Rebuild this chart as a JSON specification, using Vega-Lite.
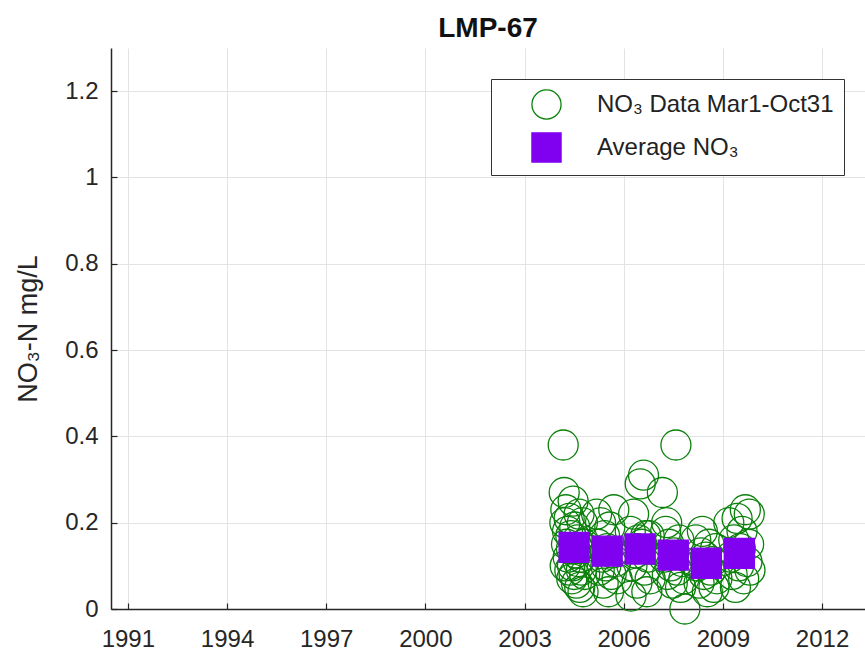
{
  "$schema": "https://vega.github.io/schema/vega-lite/v6.json",
  "width": 754,
  "height": 561,
  "autosize": {"type": "none"},
  "padding": {"left": 111, "top": 48, "right": 0, "bottom": 42},
  "background": "white",
  "title": {"text": "LMP-67", "fontSize": 28, "font": "Liberation Sans", "fontWeight": "bold", "color": "#111111", "offset": 5},
  "config": {
    "view": {"stroke": null},
    "font": "Liberation Sans",
    "axis": {
      "domainColor": "#262626", "domainWidth": 1.5,
      "gridColor": "#e3e3e3", "gridWidth": 1,
      "labelColor": "#262626", "labelFontSize": 24, "labelFont": "Liberation Sans",
      "titleColor": "#262626", "titleFontSize": 27, "titleFont": "Liberation Sans", "titleFontWeight": "normal",
      "tickColor": "#262626", "tickSize": -6, "tickWidth": 1.2
    },
    "legend": {
      "orient": "none", "legendX": 380, "legendY": 31,
      "strokeColor": "#333333", "fillColor": "white", "padding": 10,
      "symbolSize": 850, "symbolStrokeWidth": 1.3, "labelFontSize": 24, "labelColor": "#222222", "labelFont": "Liberation Sans",
      "rowPadding": 8, "symbolOffset": 30, "labelOffset": 35, "labelLimit": 400
    }
  },
  "data": {"values": [
    {"t": 2004.17, "v": 0.38, "s": "NO₃ Data Mar1-Oct31"},
    {"t": 2004.2, "v": 0.27, "s": "NO₃ Data Mar1-Oct31"},
    {"t": 2004.22, "v": 0.2, "s": "NO₃ Data Mar1-Oct31"},
    {"t": 2004.23, "v": 0.1, "s": "NO₃ Data Mar1-Oct31"},
    {"t": 2004.25, "v": 0.23, "s": "NO₃ Data Mar1-Oct31"},
    {"t": 2004.27, "v": 0.15, "s": "NO₃ Data Mar1-Oct31"},
    {"t": 2004.3, "v": 0.18, "s": "NO₃ Data Mar1-Oct31"},
    {"t": 2004.32, "v": 0.12, "s": "NO₃ Data Mar1-Oct31"},
    {"t": 2004.35, "v": 0.21, "s": "NO₃ Data Mar1-Oct31"},
    {"t": 2004.37, "v": 0.09, "s": "NO₃ Data Mar1-Oct31"},
    {"t": 2004.4, "v": 0.17, "s": "NO₃ Data Mar1-Oct31"},
    {"t": 2004.42, "v": 0.14, "s": "NO₃ Data Mar1-Oct31"},
    {"t": 2004.43, "v": 0.07, "s": "NO₃ Data Mar1-Oct31"},
    {"t": 2004.45, "v": 0.1, "s": "NO₃ Data Mar1-Oct31"},
    {"t": 2004.47, "v": 0.25, "s": "NO₃ Data Mar1-Oct31"},
    {"t": 2004.5, "v": 0.08, "s": "NO₃ Data Mar1-Oct31"},
    {"t": 2004.52, "v": 0.19, "s": "NO₃ Data Mar1-Oct31"},
    {"t": 2004.55, "v": 0.13, "s": "NO₃ Data Mar1-Oct31"},
    {"t": 2004.57, "v": 0.06, "s": "NO₃ Data Mar1-Oct31"},
    {"t": 2004.6, "v": 0.16, "s": "NO₃ Data Mar1-Oct31"},
    {"t": 2004.62, "v": 0.11, "s": "NO₃ Data Mar1-Oct31"},
    {"t": 2004.63, "v": 0.14, "s": "NO₃ Data Mar1-Oct31"},
    {"t": 2004.65, "v": 0.22, "s": "NO₃ Data Mar1-Oct31"},
    {"t": 2004.67, "v": 0.05, "s": "NO₃ Data Mar1-Oct31"},
    {"t": 2004.7, "v": 0.12, "s": "NO₃ Data Mar1-Oct31"},
    {"t": 2004.72, "v": 0.09, "s": "NO₃ Data Mar1-Oct31"},
    {"t": 2004.75, "v": 0.2, "s": "NO₃ Data Mar1-Oct31"},
    {"t": 2004.77, "v": 0.04, "s": "NO₃ Data Mar1-Oct31"},
    {"t": 2004.8, "v": 0.15, "s": "NO₃ Data Mar1-Oct31"},
    {"t": 2004.82, "v": 0.08, "s": "NO₃ Data Mar1-Oct31"},
    {"t": 2005.18, "v": 0.22, "s": "NO₃ Data Mar1-Oct31"},
    {"t": 2005.22, "v": 0.15, "s": "NO₃ Data Mar1-Oct31"},
    {"t": 2005.26, "v": 0.09, "s": "NO₃ Data Mar1-Oct31"},
    {"t": 2005.3, "v": 0.2, "s": "NO₃ Data Mar1-Oct31"},
    {"t": 2005.34, "v": 0.12, "s": "NO₃ Data Mar1-Oct31"},
    {"t": 2005.38, "v": 0.06, "s": "NO₃ Data Mar1-Oct31"},
    {"t": 2005.42, "v": 0.17, "s": "NO₃ Data Mar1-Oct31"},
    {"t": 2005.46, "v": 0.1, "s": "NO₃ Data Mar1-Oct31"},
    {"t": 2005.5, "v": 0.14, "s": "NO₃ Data Mar1-Oct31"},
    {"t": 2005.54, "v": 0.04, "s": "NO₃ Data Mar1-Oct31"},
    {"t": 2005.58, "v": 0.19, "s": "NO₃ Data Mar1-Oct31"},
    {"t": 2005.62, "v": 0.08, "s": "NO₃ Data Mar1-Oct31"},
    {"t": 2005.66, "v": 0.13, "s": "NO₃ Data Mar1-Oct31"},
    {"t": 2005.7, "v": 0.23, "s": "NO₃ Data Mar1-Oct31"},
    {"t": 2005.75, "v": 0.11, "s": "NO₃ Data Mar1-Oct31"},
    {"t": 2005.8, "v": 0.07, "s": "NO₃ Data Mar1-Oct31"},
    {"t": 2006.2, "v": 0.18, "s": "NO₃ Data Mar1-Oct31"},
    {"t": 2006.22, "v": 0.03, "s": "NO₃ Data Mar1-Oct31"},
    {"t": 2006.25, "v": 0.1, "s": "NO₃ Data Mar1-Oct31"},
    {"t": 2006.3, "v": 0.22, "s": "NO₃ Data Mar1-Oct31"},
    {"t": 2006.35, "v": 0.13, "s": "NO₃ Data Mar1-Oct31"},
    {"t": 2006.4, "v": 0.06, "s": "NO₃ Data Mar1-Oct31"},
    {"t": 2006.42, "v": 0.14, "s": "NO₃ Data Mar1-Oct31"},
    {"t": 2006.45, "v": 0.16, "s": "NO₃ Data Mar1-Oct31"},
    {"t": 2006.5, "v": 0.29, "s": "NO₃ Data Mar1-Oct31"},
    {"t": 2006.55, "v": 0.15, "s": "NO₃ Data Mar1-Oct31"},
    {"t": 2006.6, "v": 0.31, "s": "NO₃ Data Mar1-Oct31"},
    {"t": 2006.63, "v": 0.09, "s": "NO₃ Data Mar1-Oct31"},
    {"t": 2006.67, "v": 0.17, "s": "NO₃ Data Mar1-Oct31"},
    {"t": 2006.7, "v": 0.04, "s": "NO₃ Data Mar1-Oct31"},
    {"t": 2006.73, "v": 0.12, "s": "NO₃ Data Mar1-Oct31"},
    {"t": 2006.77, "v": 0.17, "s": "NO₃ Data Mar1-Oct31"},
    {"t": 2006.8, "v": 0.07, "s": "NO₃ Data Mar1-Oct31"},
    {"t": 2007.17, "v": 0.27, "s": "NO₃ Data Mar1-Oct31"},
    {"t": 2007.22, "v": 0.12, "s": "NO₃ Data Mar1-Oct31"},
    {"t": 2007.27, "v": 0.18, "s": "NO₃ Data Mar1-Oct31"},
    {"t": 2007.3, "v": 0.2, "s": "NO₃ Data Mar1-Oct31"},
    {"t": 2007.32, "v": 0.08, "s": "NO₃ Data Mar1-Oct31"},
    {"t": 2007.37, "v": 0.15, "s": "NO₃ Data Mar1-Oct31"},
    {"t": 2007.42, "v": 0.1, "s": "NO₃ Data Mar1-Oct31"},
    {"t": 2007.47, "v": 0.06, "s": "NO₃ Data Mar1-Oct31"},
    {"t": 2007.52, "v": 0.13, "s": "NO₃ Data Mar1-Oct31"},
    {"t": 2007.58, "v": 0.38, "s": "NO₃ Data Mar1-Oct31"},
    {"t": 2007.62, "v": 0.09, "s": "NO₃ Data Mar1-Oct31"},
    {"t": 2007.67, "v": 0.16, "s": "NO₃ Data Mar1-Oct31"},
    {"t": 2007.72, "v": 0.05, "s": "NO₃ Data Mar1-Oct31"},
    {"t": 2007.77, "v": 0.11, "s": "NO₃ Data Mar1-Oct31"},
    {"t": 2007.82, "v": 0.07, "s": "NO₃ Data Mar1-Oct31"},
    {"t": 2007.85, "v": 0.0, "s": "NO₃ Data Mar1-Oct31"},
    {"t": 2008.18, "v": 0.16, "s": "NO₃ Data Mar1-Oct31"},
    {"t": 2008.23, "v": 0.1, "s": "NO₃ Data Mar1-Oct31"},
    {"t": 2008.28, "v": 0.06, "s": "NO₃ Data Mar1-Oct31"},
    {"t": 2008.33, "v": 0.13, "s": "NO₃ Data Mar1-Oct31"},
    {"t": 2008.38, "v": 0.18, "s": "NO₃ Data Mar1-Oct31"},
    {"t": 2008.43, "v": 0.08, "s": "NO₃ Data Mar1-Oct31"},
    {"t": 2008.48, "v": 0.12, "s": "NO₃ Data Mar1-Oct31"},
    {"t": 2008.53, "v": 0.04, "s": "NO₃ Data Mar1-Oct31"},
    {"t": 2008.58, "v": 0.15, "s": "NO₃ Data Mar1-Oct31"},
    {"t": 2008.63, "v": 0.09, "s": "NO₃ Data Mar1-Oct31"},
    {"t": 2008.68, "v": 0.11, "s": "NO₃ Data Mar1-Oct31"},
    {"t": 2008.73, "v": 0.05, "s": "NO₃ Data Mar1-Oct31"},
    {"t": 2008.78, "v": 0.14, "s": "NO₃ Data Mar1-Oct31"},
    {"t": 2008.82, "v": 0.07, "s": "NO₃ Data Mar1-Oct31"},
    {"t": 2009.18, "v": 0.2, "s": "NO₃ Data Mar1-Oct31"},
    {"t": 2009.23, "v": 0.12, "s": "NO₃ Data Mar1-Oct31"},
    {"t": 2009.28, "v": 0.08, "s": "NO₃ Data Mar1-Oct31"},
    {"t": 2009.33, "v": 0.16, "s": "NO₃ Data Mar1-Oct31"},
    {"t": 2009.38, "v": 0.05, "s": "NO₃ Data Mar1-Oct31"},
    {"t": 2009.43, "v": 0.21, "s": "NO₃ Data Mar1-Oct31"},
    {"t": 2009.48, "v": 0.1, "s": "NO₃ Data Mar1-Oct31"},
    {"t": 2009.53, "v": 0.14, "s": "NO₃ Data Mar1-Oct31"},
    {"t": 2009.58, "v": 0.18, "s": "NO₃ Data Mar1-Oct31"},
    {"t": 2009.63, "v": 0.07, "s": "NO₃ Data Mar1-Oct31"},
    {"t": 2009.68, "v": 0.23, "s": "NO₃ Data Mar1-Oct31"},
    {"t": 2009.73, "v": 0.11, "s": "NO₃ Data Mar1-Oct31"},
    {"t": 2009.78, "v": 0.15, "s": "NO₃ Data Mar1-Oct31"},
    {"t": 2009.8, "v": 0.22, "s": "NO₃ Data Mar1-Oct31"},
    {"t": 2009.82, "v": 0.09, "s": "NO₃ Data Mar1-Oct31"},
    {"t": 2004.5, "v": 0.143, "s": "Average NO₃"},
    {"t": 2005.5, "v": 0.134, "s": "Average NO₃"},
    {"t": 2006.5, "v": 0.139, "s": "Average NO₃"},
    {"t": 2007.5, "v": 0.125, "s": "Average NO₃"},
    {"t": 2008.5, "v": 0.106, "s": "Average NO₃"},
    {"t": 2009.5, "v": 0.129, "s": "Average NO₃"}
  ]},
  "mark": {"type": "point", "size": 900, "strokeWidth": 1.3, "opacity": 1},
  "encoding": {
    "x": {
      "field": "t", "type": "quantitative",
      "scale": {"domain": [1990.49, 2013.3], "nice": false, "zero": false},
      "axis": {"title": null, "values": [1991, 1994, 1997, 2000, 2003, 2006, 2009, 2012], "format": "d", "labelPadding": 24, "labelFlush": false, "labelOverlap": false}
    },
    "y": {
      "field": "v", "type": "quantitative",
      "scale": {"domain": [0, 1.3], "nice": false},
      "axis": {"title": "NO₃-N mg/L", "values": [0, 0.2, 0.4, 0.6, 0.8, 1, 1.2], "format": ".1~f", "labelPadding": 19, "titlePadding": 22, "labelFlush": false, "labelOverlap": false}
    },
    "shape": {
      "field": "s", "type": "nominal",
      "scale": {"domain": ["NO₃ Data Mar1-Oct31", "Average NO₃"], "range": ["circle", "square"]},
      "legend": {"title": null}
    },
    "stroke": {
      "field": "s", "type": "nominal",
      "scale": {"domain": ["NO₃ Data Mar1-Oct31", "Average NO₃"], "range": ["#0b800b", "#8000f0"]},
      "legend": {"title": null}
    },
    "fill": {
      "field": "s", "type": "nominal",
      "scale": {"domain": ["NO₃ Data Mar1-Oct31", "Average NO₃"], "range": ["transparent", "#8000f0"]},
      "legend": {"title": null}
    }
  }
}
